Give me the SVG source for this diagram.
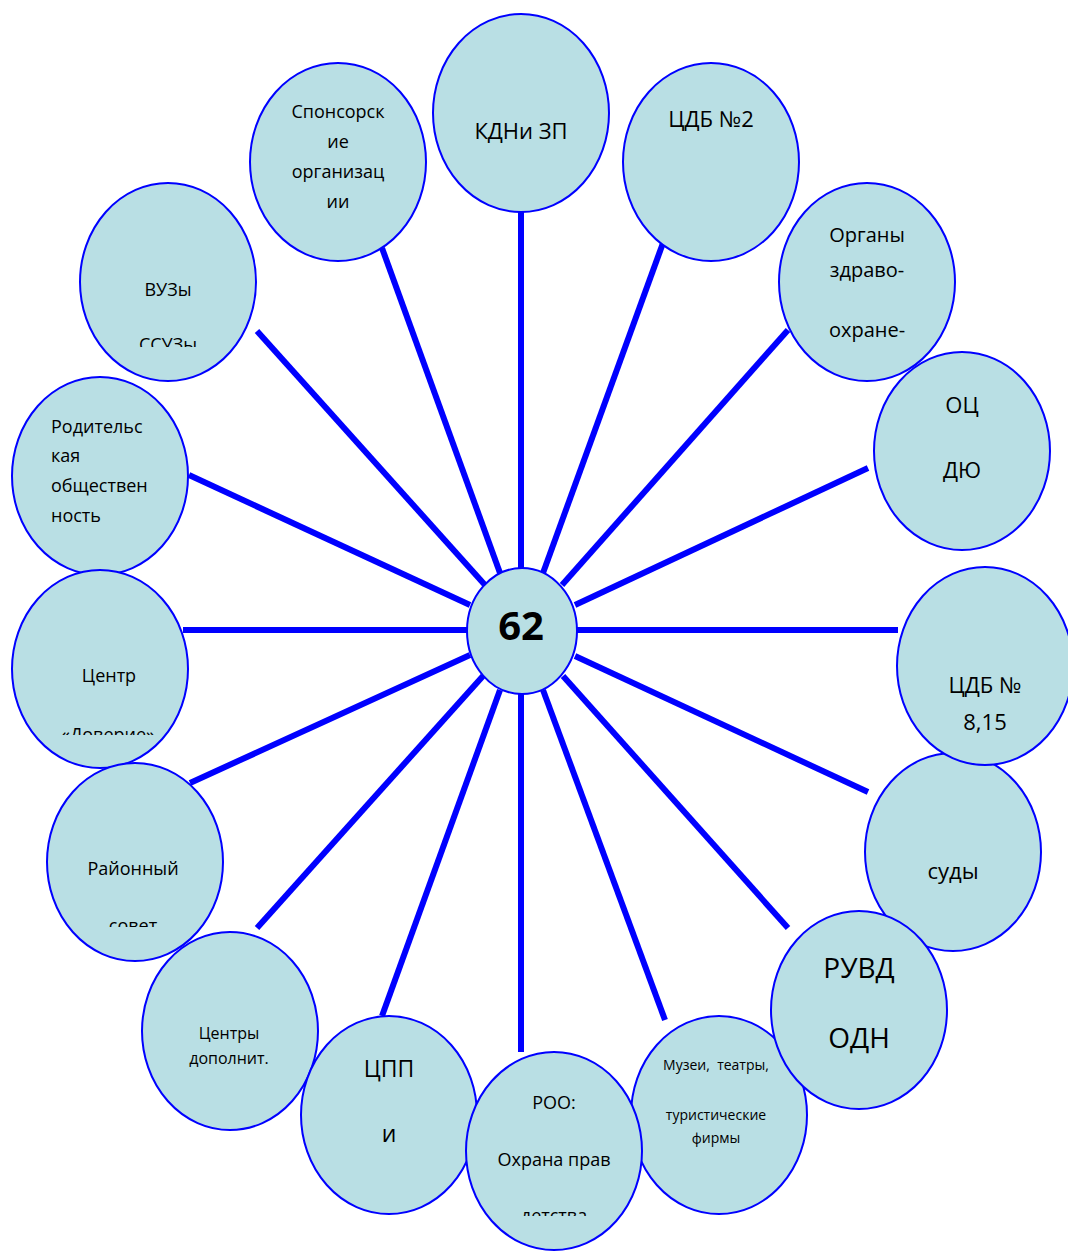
<svg xmlns="http://www.w3.org/2000/svg" width="1068" height="1251" viewBox="0 0 1068 1251">
<style>
.n{fill:#B9DFE4;stroke:#0000FF;stroke-width:2}
.c line{stroke:#0000FF;stroke-width:6}
text{font-family:"Open Sans","Noto Sans","Liberation Sans",sans-serif;fill:#000;text-anchor:middle}
.l{text-anchor:start}
</style>
<defs>
<clipPath id="cp1"><rect x="80" y="300" width="180" height="47"/></clipPath>
<clipPath id="cp2"><rect x="12" y="700" width="180" height="35"/></clipPath>
<clipPath id="cp3"><rect x="47" y="900" width="180" height="27"/></clipPath>
<clipPath id="cp4"><rect x="466" y="1190" width="180" height="26"/></clipPath>
</defs>
<rect width="1068" height="1251" fill="#fff"/>
<g class="c" id="connectors">
<line x1="521" y1="212" x2="521" y2="570"/>
<line x1="663" y1="243" x2="543" y2="573"/>
<line x1="382" y1="248" x2="500" y2="573"/>
<line x1="788" y1="330" x2="562" y2="585"/>
<line x1="257" y1="331" x2="485" y2="585"/>
<line x1="868" y1="468" x2="575" y2="605"/>
<line x1="189" y1="475" x2="470" y2="605"/>
<line x1="183" y1="630" x2="468" y2="630"/>
<line x1="576" y1="630" x2="898" y2="630"/>
<line x1="190" y1="783" x2="470" y2="655"/>
<line x1="868" y1="792" x2="575" y2="656"/>
<line x1="257" y1="928" x2="483" y2="676"/>
<line x1="788" y1="928" x2="563" y2="676"/>
<line x1="382" y1="1016" x2="500" y2="690"/>
<line x1="521" y1="692" x2="521" y2="1052"/>
<line x1="665" y1="1020" x2="543" y2="690"/>
</g>
<g id="n-kdn"><ellipse class="n" cx="521" cy="113" rx="88" ry="99"/><text x="521" y="139" font-size="22">КДНи ЗП</text></g>
<g id="n-cdb2"><ellipse class="n" cx="711" cy="162" rx="88" ry="99"/><text x="711" y="127" font-size="22">ЦДБ №2</text></g>
<g id="n-spons"><ellipse class="n" cx="338" cy="162" rx="88" ry="99"/>
<text x="338" y="118" font-size="18">Спонсорск</text><text x="338" y="148" font-size="18">ие</text><text x="338" y="178" font-size="18">организац</text><text x="338" y="208" font-size="18">ии</text></g>
<g id="n-org"><ellipse class="n" cx="867" cy="282" rx="88" ry="99"/>
<text x="867" y="242" font-size="20">Органы</text><text x="867" y="277" font-size="20">здраво-</text><text x="867" y="337" font-size="20">охране-</text></g>
<g id="n-vuz"><ellipse class="n" cx="168" cy="282" rx="88" ry="99"/>
<text x="168" y="296" font-size="18">ВУЗы</text><text x="168" y="351" font-size="18" clip-path="url(#cp1)">ССУЗы</text></g>
<g id="n-ocdu"><ellipse class="n" cx="962" cy="451" rx="88" ry="99"/>
<text x="962" y="413" font-size="22">ОЦ</text><text x="962" y="478" font-size="22">ДЮ</text></g>
<g id="n-rod"><ellipse class="n" cx="100" cy="476" rx="88" ry="99"/>
<text class="l" x="51" y="433" font-size="18">Родительс</text><text class="l" x="51" y="462" font-size="18">кая</text><text class="l" x="51" y="492" font-size="18">обществен</text><text class="l" x="51" y="522" font-size="18">ность</text></g>
<g id="n-centr"><ellipse class="n" cx="100" cy="669" rx="88" ry="99"/>
<text x="109" y="682" font-size="18">Центр</text><text x="108" y="741" font-size="18" clip-path="url(#cp2)">«Доверие»</text></g>
<g id="n-musei"><ellipse class="n" cx="719" cy="1115" rx="88" ry="99"/>
<text x="716" y="1070" font-size="14" xml:space="preserve">Музеи,  театры,</text><text x="716" y="1120" font-size="14">туристические</text><text x="716" y="1143" font-size="14">фирмы</text></g>
<g id="n-sudy"><ellipse class="n" cx="953" cy="852" rx="88" ry="99"/><text x="953" y="879" font-size="22">суды</text></g>
<g id="n-cdb815"><ellipse class="n" cx="985" cy="666" rx="88" ry="99"/>
<text x="985" y="693" font-size="22">ЦДБ №</text><text x="985" y="730" font-size="22">8,15</text></g>
<g id="n-ruvd"><ellipse class="n" cx="859" cy="1010" rx="88" ry="99"/>
<text x="859" y="978" font-size="28">РУВД</text><text x="859" y="1048" font-size="28">ОДН</text></g>
<g id="n-raion"><ellipse class="n" cx="135" cy="862" rx="88" ry="99"/>
<text x="133" y="875" font-size="18">Районный</text><text x="133" y="932" font-size="18" clip-path="url(#cp3)">совет</text></g>
<g id="n-cdop"><ellipse class="n" cx="230" cy="1031" rx="88" ry="99"/>
<text x="229" y="1039" font-size="16">Центры</text><text x="229" y="1064" font-size="16">дополнит.</text></g>
<g id="n-cpp"><ellipse class="n" cx="389" cy="1115" rx="88" ry="99"/>
<text x="389" y="1077" font-size="23">ЦПП</text><text x="389" y="1142" font-size="23">и</text></g>
<g id="n-roo"><ellipse class="n" cx="554" cy="1151" rx="88" ry="99"/>
<text x="554" y="1109" font-size="18">РОО:</text><text x="554" y="1166" font-size="18">Охрана прав</text><text x="554" y="1222" font-size="18" clip-path="url(#cp4)">детства</text></g>
<g id="n-62"><ellipse class="n" cx="522" cy="631" rx="55" ry="63"/><text x="521" y="640" font-size="40" font-weight="bold">62</text></g>
</svg>
